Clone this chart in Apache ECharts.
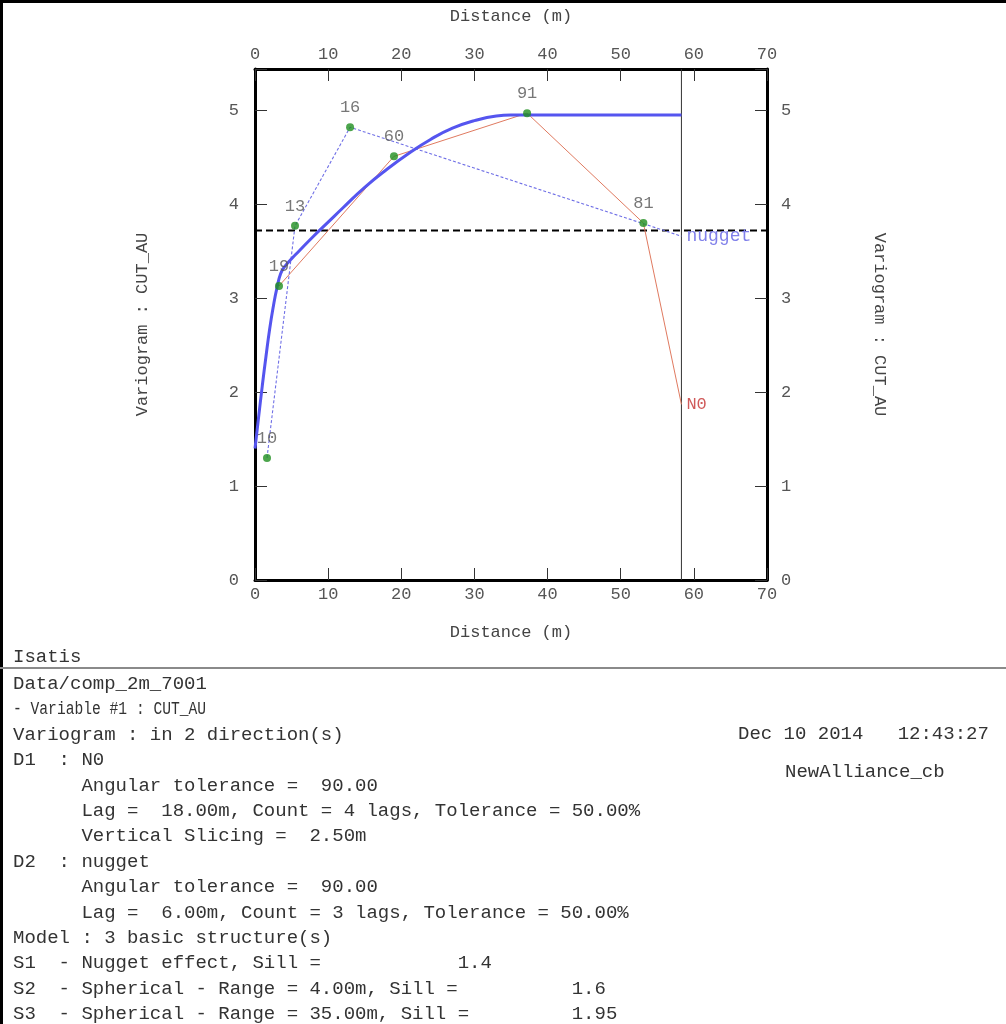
<!DOCTYPE html>
<html>
<head>
<meta charset="utf-8">
<script src="https://cdn.jsdelivr.net/npm/echarts@6/dist/echarts.min.js"></script>
<style>
html,body{margin:0;padding:0;background:#fff;}
#main{width:1006px;height:1024px;}
</style>
</head>
<body>
<div id="main"></div>
<script>
// ---- data ----
const xTicks = [0, 10, 20, 30, 40, 50, 60, 70];
const yTicks = [0, 1, 2, 3, 4, 5];

// experimental points (distance, variogram, pair count)
const pointX = [1.64, 3.28, 5.47, 13.0, 19.0, 37.2, 53.1];
const pointY = [1.30, 3.13, 3.77, 4.82, 4.51, 4.97, 3.80];
const pointCount = ['10', '19', '13', '16', '60', '91', '81'];

// direction D1 : N0 (thin red line, clipped at right)
const d1X = [3.28, 19.0, 37.2, 53.1, 58.3];
const d1Y = [3.13, 4.51, 4.97, 3.80, 1.87];

// direction D2 : nugget (thin dashed blue line)
const d2X = [1.64, 5.47, 13.0, 58.3];
const d2Y = [1.30, 3.77, 4.82, 3.66];

// fitted model curve
const modelX = [0, 0.5, 1, 1.5, 2, 2.5, 3, 3.5, 4, 5, 6, 8, 10, 12, 15, 18, 21, 24, 27, 30, 33, 35, 58.3];
const modelY = [1.40, 1.74, 2.07, 2.38, 2.67, 2.91, 3.11, 3.26, 3.33, 3.42, 3.50, 3.66, 3.81, 3.96, 4.18, 4.37, 4.54, 4.69, 4.81, 4.89, 4.94, 4.95, 4.95];

// variance (dashed horizontal) and max-distance (vertical) lines
const varianceY = 3.72;
const maxDistX = 58.3;

const textLines = [
  'Data/comp_2m_7001',
  '- Variable #1 : CUT_AU',
  'Variogram : in 2 direction(s)',
  'D1  : N0',
  '      Angular tolerance =  90.00',
  '      Lag =  18.00m, Count = 4 lags, Tolerance = 50.00%',
  '      Vertical Slicing =  2.50m',
  'D2  : nugget',
  '      Angular tolerance =  90.00',
  '      Lag =  6.00m, Count = 3 lags, Tolerance = 50.00%',
  'Model : 3 basic structure(s)',
  'S1  - Nugget effect, Sill =            1.4',
  'S2  - Spherical - Range = 4.00m, Sill =          1.6',
  'S3  - Spherical - Range = 35.00m, Sill =         1.95'
];
const headerText = 'Isatis';
const dateText = 'Dec 10 2014   12:43:27';
const userText = 'NewAlliance_cb';

// ---- chart ----
const FONT = '"Liberation Mono", "DejaVu Sans Mono", monospace';
const TXT = '19px ' + FONT;
const zip = (a, b) => a.map((v, i) => [v, b[i]]);
const chart = echarts.init(document.getElementById('main'), null, {renderer: 'canvas'});

const yMax = 5.44;
const axisLineStyle = () => ({show: true, onZero: false, lineStyle: {color: '#000', width: 3}});
const tickStyle = () => ({show: true, inside: true, length: 12, lineStyle: {color: '#333', width: 1}});
const labelStyle = (margin, fmt) => ({margin: margin, formatter: fmt, color: '#555', fontFamily: FONT, fontSize: 17});
const nameStyle = () => ({color: '#444', fontFamily: FONT, fontSize: 17});
const yFmt = v => yTicks.includes(v) ? String(v) : '';
const xFmt = v => xTicks.includes(v) ? String(v) : '';

const graphics = [
  {type: 'rect', shape: {x: 0, y: 0, width: 1006, height: 3}, style: {fill: '#000'}},
  {type: 'rect', shape: {x: 0, y: 0, width: 3, height: 1024}, style: {fill: '#000'}},
  {type: 'rect', shape: {x: 0, y: 667, width: 1006, height: 2}, style: {fill: '#8a8a8a'}},
  {type: 'text', x: 13, y: 657, style: {text: headerText, font: TXT, fill: '#333', verticalAlign: 'middle'}},
  {type: 'text', x: 738, y: 734, style: {text: dateText, font: TXT, fill: '#333', verticalAlign: 'middle'}},
  {type: 'text', x: 785, y: 772, style: {text: userText, font: TXT, fill: '#333', verticalAlign: 'middle'}}
];
textLines.forEach((t, i) => {
  const el = {type: 'text', x: 13, y: 684 + i * 25.4,
    style: {text: t, font: TXT, fill: '#333', verticalAlign: 'middle'}};
  if (i === 1) { el.scaleX = 0.77; }
  graphics.push(el);
});

chart.setOption({
  animation: false,
  backgroundColor: '#fff',
  grid: {left: 255, top: 69, width: 512, height: 511, containLabel: false},
  xAxis: [
    {type: 'value', position: 'bottom', min: 0, max: 70, interval: 10,
     name: 'Distance (m)', nameLocation: 'middle', nameGap: 44, nameTextStyle: nameStyle(),
     axisLine: axisLineStyle(), axisTick: tickStyle(), splitLine: {show: false},
     axisLabel: labelStyle(6, xFmt)},
    {type: 'value', position: 'top', min: 0, max: 70, interval: 10,
     name: 'Distance (m)', nameLocation: 'middle', nameGap: 44, nameTextStyle: nameStyle(),
     axisLine: axisLineStyle(), axisTick: tickStyle(), splitLine: {show: false},
     axisLabel: labelStyle(6, xFmt)}
  ],
  yAxis: [
    {type: 'value', position: 'left', min: 0, max: yMax, interval: 1,
     name: 'Variogram : CUT_AU', nameLocation: 'middle', nameGap: 104, nameRotate: 90, nameTextStyle: nameStyle(),
     axisLine: axisLineStyle(), axisTick: tickStyle(), splitLine: {show: false},
     axisLabel: labelStyle(16, yFmt)},
    {type: 'value', position: 'right', min: 0, max: yMax, interval: 1,
     name: 'Variogram : CUT_AU', nameLocation: 'middle', nameGap: 104, nameRotate: -90, nameTextStyle: nameStyle(),
     axisLine: axisLineStyle(), axisTick: tickStyle(), splitLine: {show: false},
     axisLabel: labelStyle(14, yFmt)}
  ],
  series: [
    {type: 'line', name: 'maxdist', data: [[maxDistX, 0], [maxDistX, yMax]], symbol: 'none',
     lineStyle: {color: '#333', width: 1}, z: 1},
    {type: 'line', name: 'variance', data: [[0, varianceY], [70, varianceY]], symbol: 'none',
     lineStyle: {color: '#000', width: 2, type: [7, 4]}, z: 2},
    {type: 'line', name: 'N0', data: zip(d1X, d1Y), symbol: 'none',
     lineStyle: {color: '#e07a60', width: 1}, z: 3,
     endLabel: {show: true, formatter: 'N0', color: '#d05a5a', fontFamily: FONT, fontSize: 17, distance: 5}},
    {type: 'line', name: 'nugget', data: zip(d2X, d2Y), symbol: 'none',
     lineStyle: {color: '#6f6fe6', width: 1.1, type: [3, 2]}, z: 3,
     endLabel: {show: true, formatter: 'nugget', color: '#8080ea', fontFamily: FONT, fontSize: 18, distance: 5}},
    {type: 'line', name: 'model', data: zip(modelX, modelY), symbol: 'none', smooth: 0.5,
     lineStyle: {color: '#5555ef', width: 3}, z: 4},
    {type: 'scatter', name: 'points', data: pointX.map((x, i) => [x, pointY[i], pointCount[i]]),
     symbol: 'circle', symbolSize: 8, itemStyle: {color: '#1f8f1f'}, z: 5,
     label: {show: true, position: 'top', distance: 7, formatter: p => p.data[2],
       color: '#555', fontFamily: FONT, fontSize: 17}}
  ],
  graphic: graphics
});
</script>
</body>
</html>
